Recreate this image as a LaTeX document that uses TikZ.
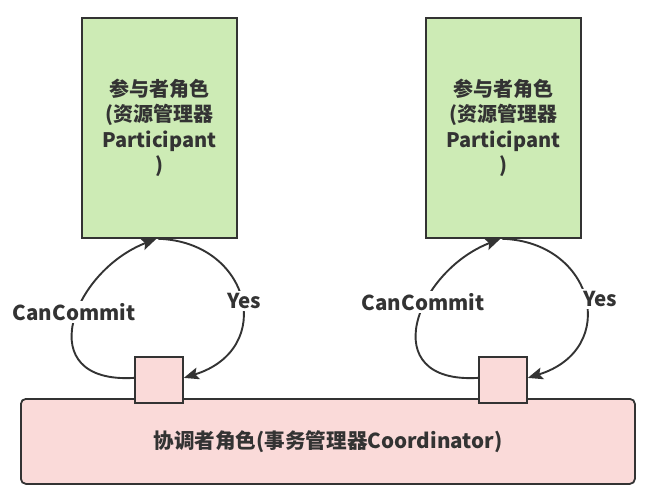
\documentclass[tikz,border=0pt]{standalone}
\usepackage{fontspec}
\setmainfont{Noto Sans CJK SC}
\usetikzlibrary{arrows.meta}
\definecolor{pgreen}{RGB}{205,235,181}
\definecolor{ppink}{RGB}{250,218,217}
\definecolor{lcol}{RGB}{51,51,51}
\tikzset{
  partbox/.style={draw=lcol, line width=1.8pt, fill=pgreen, minimum width=155pt, minimum height=220pt, inner sep=0pt, anchor=north west, align=center, font=\fontsize{20}{25.5}\selectfont\bfseries, text=lcol},
  coordbox/.style={draw=lcol, line width=1.8pt, fill=ppink, rounded corners=5pt, minimum width=614pt, minimum height=85pt, inner sep=0pt, anchor=north west, font=\fontsize{20.6}{25}\selectfont\bfseries, text=lcol},
  sqbox/.style={draw=lcol, line width=1.8pt, fill=ppink, minimum width=48pt, minimum height=46pt, inner sep=0pt, anchor=north west},
  loop/.style={draw=lcol, line width=1.9pt, -{Stealth[length=15pt,width=12pt,inset=3pt]}},
  lbl/.style={fill=white, inner sep=2pt, font=\fontsize{20.5}{22}\selectfont\bfseries, text=lcol}
}
\begin{document}
\begin{tikzpicture}[x=1pt,y=-1pt]
\useasboundingbox (0,0) rectangle (656,494);
\node[partbox] (pL) at (81,17) {参与者角色\\(资源管理器\\Participant\\)};
\node[partbox] (pR) at (425,17) {参与者角色\\(资源管理器\\Participant\\)};
\node[coordbox] (co) at (20,398) {协调者角色(事务管理器Coordinator)};
\node[sqbox] (sL) at (134,356) {};
\node[sqbox] (sR) at (478,356) {};
% left loop
\draw[loop] ([yshift=2pt]sL.west) .. controls +(-104,6) and +(-85,33) .. ([xshift=-3pt]pL.south);
\draw[loop] ([xshift=-1pt]pL.south) .. controls +(92,3) and +(93,-29) .. ([yshift=2pt]sL.east);
% right loop
\draw[loop] ([yshift=2pt]sR.west) .. controls +(-104,6) and +(-85,33) .. ([xshift=-3pt]pR.south);
\draw[loop] ([xshift=-1pt]pR.south) .. controls +(92,3) and +(93,-29) .. ([yshift=2pt]sR.east);
\node[lbl] (cL) at (74,312) {CanCommit};
\node[lbl] (yL) at (244,301) {Yes};
\node[lbl] (cR) at (423,302) {CanCommit};
\node[lbl] (yR) at (600,299) {Yes};
\end{tikzpicture}
\end{document}
